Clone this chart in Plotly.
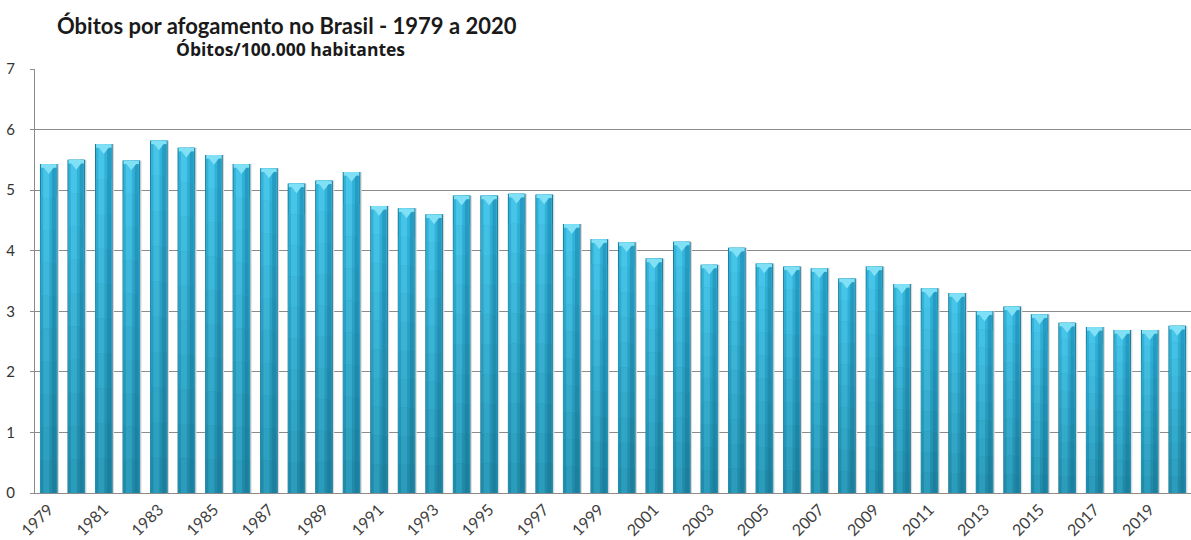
import plotly.graph_objects as go

# Drowning deaths per 100,000 inhabitants, Brazil 1979-2020
years = list(range(1979, 2021))
rates = [5.43, 5.50, 5.76, 5.49, 5.82, 5.70, 5.58, 5.43, 5.36, 5.11,
         5.16, 5.30, 4.74, 4.70, 4.60, 4.91, 4.91, 4.94, 4.93, 4.44,
         4.19, 4.14, 3.87, 4.15, 3.77, 4.05, 3.79, 3.74, 3.71, 3.54,
         3.74, 3.45, 3.38, 3.30, 3.00, 3.08, 2.95, 2.81, 2.74, 2.69,
         2.69, 2.76]
year_labels = [str(y) for y in years]
shown_ticks = year_labels[::2]
y_ticks = [0, 1, 2, 3, 4, 5, 6, 7]

FONT = "Lato"
BAR_W = 0.64


def mix(c1, c2, t):
    a = [int(c1[i:i + 2], 16) for i in (1, 3, 5)]
    b = [int(c2[i:i + 2], 16) for i in (1, 3, 5)]
    return "#" + "".join(f"{round(x + (y - x) * t):02x}" for x, y in zip(a, b))


fig = go.Figure()

# soft drop shadow to the right of each bar
fig.add_bar(x=year_labels, y=rates, width=BAR_W, offset=-BAR_W / 2 + 0.05,
            marker=dict(color="#dadada", line_width=0), hoverinfo="skip")

# dark outline of the cylinder
fig.add_bar(x=year_labels, y=rates, width=BAR_W, offset=-BAR_W / 2,
            marker=dict(color="#17728f", line_width=0), hoverinfo="skip")

# body shading: lighter at the top, darker towards the base
steps = [1.0, 0.9, 0.8, 0.7, 0.6, 0.5, 0.4, 0.3, 0.2, 0.1]
body_top, body_bot = "#31b3d9", "#218aa9"
hi_top, hi_bot = "#46c5e9", "#2b9cbc"
rt_top, rt_bot = "#279cc3", "#1c7f9d"
for k, f in enumerate(steps):
    t = k / (len(steps) - 1)
    h = [r * f for r in rates]
    fig.add_bar(x=year_labels, y=h, width=BAR_W - 0.06, offset=-(BAR_W - 0.06) / 2,
                marker=dict(color=mix(body_top, body_bot, t), line_width=0),
                hoverinfo="skip")
    fig.add_bar(x=year_labels, y=h, width=0.14, offset=0.12,
                marker=dict(color=mix(rt_top, rt_bot, t), line_width=0),
                hoverinfo="skip")
    fig.add_bar(x=year_labels, y=h, width=0.22, offset=-0.2,
                marker=dict(color=mix(hi_top, hi_bot, t), line_width=0),
                hoverinfo="skip")

# glossy cap at the top of each bar
cap_h = 0.06
fig.add_bar(x=year_labels, y=[cap_h] * len(rates), base=[r - cap_h for r in rates],
            width=BAR_W - 0.08, offset=-(BAR_W - 0.08) / 2,
            marker=dict(color="#80e0f5", line_width=0), hoverinfo="skip")
fig.add_scatter(x=year_labels, y=[r - cap_h - 0.02 for r in rates], mode="markers",
                marker=dict(symbol="triangle-down", size=10, color="#80e0f5",
                            line_width=0), hoverinfo="skip")

fig.update_layout(
    barmode="overlay",
    showlegend=False,
    width=1191, height=540,
    margin=dict(l=35, r=0, t=69, b=47),
    plot_bgcolor="white", paper_bgcolor="white",
    font=dict(family=FONT, color="#333333"),
    title=dict(text="<b>Óbitos por afogamento no Brasil - 1979 a 2020</b>",
               font=dict(family=FONT, size=22, color="#1a1a1a"),
               xref="container", yref="container",
               x=57 / 1191, xanchor="left", y=1 - 26 / 540, yanchor="middle"),
    annotations=[dict(text="<b>Óbitos/100.000 habitantes</b>", xref="paper", yref="paper",
                      x=(290 - 35) / 1156, y=1 + 20 / 424, xanchor="center", yanchor="middle",
                      showarrow=False,
                      font=dict(family="Open Sans", size=17.5, color="#1a1a1a"))],
)

fig.update_xaxes(
    type="category", categoryorder="array", categoryarray=year_labels,
    tickmode="array", tickvals=shown_ticks, ticktext=shown_ticks,
    tickangle=-45, tickfont=dict(size=16, color="#404040"),
    showline=True, linecolor="#8c8c8c", linewidth=1, mirror=False,
    ticks="", showgrid=False, range=[-0.5, len(years) - 0.5],
)
fig.update_yaxes(
    range=[0, 7], tickvals=y_ticks, tickfont=dict(size=15, color="#333333"),
    showgrid=True, gridcolor="#8c8c8c", gridwidth=1,
    showline=True, linecolor="#8c8c8c", linewidth=1,
    ticks="outside", ticklen=4, tickcolor="#8c8c8c", ticklabelstandoff=12,
    zeroline=False,
)

fig.write_html("out.html")
